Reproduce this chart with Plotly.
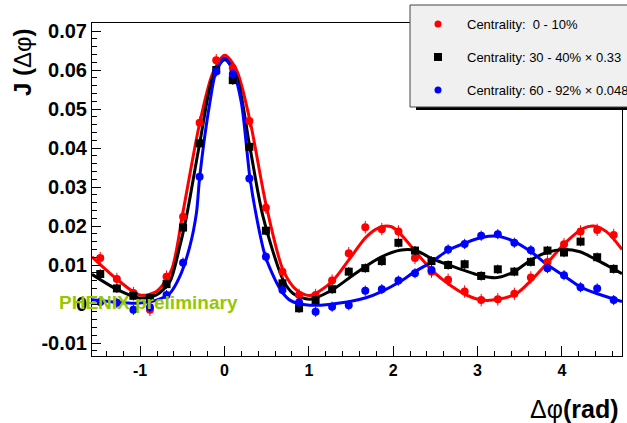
import math
import plotly.graph_objects as go

# ---------------- data ----------------
x_bins = [-1.473, -1.276, -1.080, -0.884, -0.687, -0.491, -0.295, -0.098, 0.098, 0.295,
          0.491, 0.687, 0.884, 1.080, 1.276, 1.473, 1.669, 1.865, 2.062, 2.258,
          2.454, 2.651, 2.847, 3.043, 3.240, 3.436, 3.632, 3.829, 4.025, 4.221,
          4.418, 4.614]

red_y = [0.0118, 0.0064, 0.0028, -0.0015, 0.0070, 0.0224, 0.0465, 0.0625, 0.0605, 0.0469,
         0.0247, 0.0083, 0.0023, 0.0023, 0.0060, 0.0130, 0.0197, 0.0192, 0.0186, 0.0118,
         0.0083, 0.0062, 0.0032, 0.0010, 0.0012, 0.0026, 0.0068, 0.0108, 0.0153, 0.0186,
         0.0190, 0.0177]
black_y = [0.0077, 0.0040, 0.0021, 0.0015, 0.0051, 0.0196, 0.0412, 0.0600, 0.0574, 0.0403,
           0.0188, 0.0053, -0.0011, 0.0010, 0.0038, 0.0083, 0.0092, 0.0110, 0.0157, 0.0137,
           0.0110, 0.0100, 0.0102, 0.0072, 0.0089, 0.0083, 0.0108, 0.0137, 0.0132, 0.0160,
           0.0120, 0.0090]
blue_y = [0.0005, 0.0003, -0.0015, -0.0008, 0.0023, 0.0106, 0.0326, 0.0596, 0.0590, 0.0322,
          0.0121, 0.0036, 0.0004, -0.0020, -0.0007, -0.0003, 0.0034, 0.0038, 0.0060, 0.0079,
          0.0087, 0.0140, 0.0154, 0.0175, 0.0179, 0.0157, 0.0138, 0.0092, 0.0074, 0.0043,
          0.0040, 0.0010]

red_err = 0.0016
black_err = 0.0012
blue_err = 0.0013

# fit curves
red_fit_x = [-1.571, -1.266, -1.005, -0.807, -0.629, -0.495, -0.294, -0.139, 0.003, 0.142,
             0.300, 0.498, 0.695, 0.854, 1.011, 1.272, 1.474, 1.684, 1.862, 1.980,
             2.079, 2.316, 2.474, 2.672, 2.870, 3.055, 3.245, 3.463, 3.641, 3.858,
             4.036, 4.253, 4.372, 4.531, 4.712]
red_fit_y = [0.0121, 0.0062, 0.0023, 0.0032, 0.0087, 0.0233, 0.0464, 0.0592, 0.0638, 0.0600,
             0.0472, 0.0249, 0.0087, 0.0036, 0.0022, 0.0057, 0.0113, 0.0173, 0.0198, 0.0198,
             0.0181, 0.0121, 0.0083, 0.0049, 0.0023, 0.0010, 0.0012, 0.0027, 0.0062, 0.0113,
             0.0156, 0.0194, 0.0200, 0.0185, 0.0140]

black_fit_x = [-1.571, -1.263, -1.005, -0.807, -0.649, -0.531, -0.451, -0.294, -0.136, 0.003,
               0.142, 0.300, 0.457, 0.695, 0.813, 1.011, 1.276, 1.474, 1.676, 1.862,
               2.079, 2.257, 2.455, 2.672, 3.048, 3.238, 3.435, 3.633, 3.819, 4.016,
               4.214, 4.412, 4.712]
black_fit_y = [0.0076, 0.0036, 0.0015, 0.0023, 0.0057, 0.0147, 0.0224, 0.0412, 0.0583, 0.0626,
               0.0583, 0.0403, 0.0224, 0.0062, 0.0027, 0.0012, 0.0036, 0.0066, 0.0097, 0.0121,
               0.0138, 0.0138, 0.0117, 0.0099, 0.0072, 0.0068, 0.0083, 0.0113, 0.0132, 0.0140,
               0.0134, 0.0113, 0.0078]

blue_fit_x = [-1.571, -1.044, -0.807, -0.649, -0.531, -0.412, -0.333, -0.294, -0.175, -0.095,
              0.003, 0.101, 0.201, 0.300, 0.379, 0.486, 0.655, 0.774, 1.011, 1.474,
              1.676, 1.862, 2.079, 2.257, 2.455, 2.652, 2.850, 3.055, 3.245, 3.435,
              3.633, 3.831, 4.028, 4.226, 4.412, 4.712]
blue_fit_y = [0.0011, 0.0002, 0.0010, 0.0027, 0.0070, 0.0147, 0.0233, 0.0326, 0.0515, 0.0600,
              0.0630, 0.0600, 0.0515, 0.0326, 0.0224, 0.0121, 0.0040, 0.0010, -0.0003, 0.0006,
              0.0016, 0.0032, 0.0057, 0.0083, 0.0108, 0.0138, 0.0156, 0.0171, 0.0174, 0.0160,
              0.0134, 0.0100, 0.0072, 0.0043, 0.0027, 0.0006]

x_range = [-math.pi / 2, 3 * math.pi / 2]
y_range = [-0.01333, 0.07205]
x_tickvals = [-1, 0, 1, 2, 3, 4]
x_ticktext = ["-1", "0", "1", "2", "3", "4"]
y_tickvals = [-0.01, 0.0, 0.01, 0.02, 0.03, 0.04, 0.05, 0.06, 0.07]
y_ticktext = ["-0.01", "0", "0.01", "0.02", "0.03", "0.04", "0.05", "0.06", "0.07"]

legend_labels = ["Centrality:\u00a0\u00a00 - 10%",
                 "Centrality: 30 - 40% \u00d7 0.33",
                 "Centrality: 60 - 92% \u00d7 0.048"]
legend_colors = ["#ff0000", "#000000", "#0000ff"]

RED, BLACK, BLUE = "#ff0000", "#000000", "#0000ff"
FONT = "Liberation Sans, Arial, Helvetica, sans-serif"

# ---------------- layout geometry ----------------
W, H = 627, 423
L, R, T, B = 92, 5, 23, 67
PW, PH = W - L - R, H - T - B


def fx(px):
    return (px - L) / PW


def fy(py):
    return (H - B - py) / PH


fig = go.Figure()

for xs, ys, c in [(red_fit_x, red_fit_y, RED), (black_fit_x, black_fit_y, BLACK),
                  (blue_fit_x, blue_fit_y, BLUE)]:
    fig.add_trace(go.Scatter(x=xs, y=ys, mode="lines",
                             line=dict(color=c, width=3, shape="spline", smoothing=0.8),
                             hoverinfo="skip", showlegend=False))

for ys, c, sym, err in [(red_y, RED, "circle", red_err), (black_y, BLACK, "square", black_err),
                        (blue_y, BLUE, "circle", blue_err)]:
    fig.add_trace(go.Scatter(x=x_bins, y=ys, mode="markers",
                             marker=dict(color=c, size=8, symbol=sym, line=dict(width=0)),
                             error_y=dict(type="constant", value=err, color=c,
                                          thickness=1, width=0),
                             showlegend=False))

axis_common = dict(showline=True, linecolor="black", linewidth=1, mirror=True,
                   ticks="inside", tickcolor="black", tickwidth=1,
                   showgrid=False, zeroline=False)

fig.update_xaxes(range=x_range, tickvals=x_tickvals, ticktext=x_ticktext,
                 ticklen=10,
                 tickfont=dict(family=FONT, size=16, color="black", weight="bold"),
                 minor=dict(dtick=0.2, tick0=0, ticklen=5, ticks="inside",
                            tickcolor="black", showgrid=False),
                 **axis_common)
fig.update_yaxes(range=y_range, tickvals=y_tickvals, ticktext=y_ticktext,
                 ticklen=9,
                 tickfont=dict(family=FONT, size=20, color="black", weight="bold"),
                 minor=dict(dtick=0.002, tick0=0, ticklen=5, ticks="inside",
                            tickcolor="black", showgrid=False),
                 **axis_common)

shapes = []
# legend shadow and box
shapes.append(dict(type="rect", xref="paper", yref="paper", x0=fx(416), x1=fx(650),
                   y0=fy(110), y1=fy(11), fillcolor="black", line=dict(width=0), layer="above"))
shapes.append(dict(type="rect", xref="paper", yref="paper", x0=fx(410), x1=fx(645),
                   y0=fy(107), y1=fy(5), fillcolor="#f0f0f0",
                   line=dict(color="#444444", width=1), layer="above"))
rows = [24, 57, 90]
for i, (py, c) in enumerate(zip(rows, legend_colors)):
    if i == 1:
        shapes.append(dict(type="rect", xref="paper", yref="paper", x0=fx(434), x1=fx(442),
                           y0=fy(py + 4), y1=fy(py - 4), fillcolor=c, line=dict(width=0),
                           layer="above"))
    else:
        shapes.append(dict(type="circle", xref="paper", yref="paper", x0=fx(434.5), x1=fx(441.5),
                           y0=fy(py + 3.5), y1=fy(py - 3.5), fillcolor=c, line=dict(width=0),
                           layer="above"))

annotations = []
for py, txt in zip(rows, legend_labels):
    annotations.append(dict(x=fx(465), y=fy(py), xref="paper", yref="paper", text=txt,
                            showarrow=False, xanchor="left", yanchor="middle",
                            font=dict(family=FONT, size=13, color="black")))

annotations.append(dict(x=fx(57), y=fy(302), xref="paper", yref="paper",
                        text="PHENIX preliminary", showarrow=False, xanchor="left",
                        yanchor="middle",
                        font=dict(family=FONT, size=19, color="#96c800", weight="bold")))

annotations.append(dict(x=fx(620), y=fy(409), xref="paper", yref="paper",
                        text="\u0394\u03c6<b>(rad)</b>", showarrow=False, xanchor="right",
                        yanchor="middle", font=dict(family=FONT, size=25, color="black")))

annotations.append(dict(x=fx(22), y=fy(62), xref="paper", yref="paper",
                        text="<b>J (</b>\u0394\u03c6<b>)</b>", textangle=-90, showarrow=False,
                        xanchor="center", yanchor="middle",
                        font=dict(family=FONT, size=24, color="black")))

fig.update_layout(width=W, height=H, margin=dict(l=L, r=R, t=T, b=B, pad=0),
                  plot_bgcolor="white", paper_bgcolor="white", showlegend=False,
                  shapes=shapes, annotations=annotations)

fig.write_html("out.html")
